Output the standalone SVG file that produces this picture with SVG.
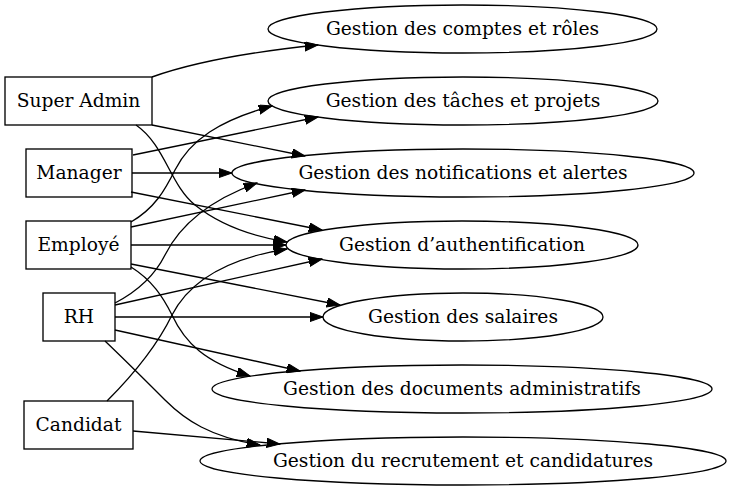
<svg xmlns="http://www.w3.org/2000/svg" width="732" height="491" viewBox="0 0 732 491">
<style>
.n rect, .n ellipse { fill: none; stroke: #000; stroke-width: 1.33; }
text { font-family: "DejaVu Serif", "Liberation Serif", serif; font-size: 18.67px; fill: #000; text-anchor: middle; }
#edges path { fill: none; stroke: #000; stroke-width: 1.33; marker-end: url(#arr); }
</style>
<defs>
<marker id="arr" markerUnits="userSpaceOnUse" markerWidth="14" markerHeight="10" refX="13.3" refY="4.67" orient="auto">
<path d="M0,0 L13.3,4.67 L0,9.33 z" fill="#000" stroke="#000" stroke-width="1"/>
</marker>
</defs>
<rect width="732" height="491" fill="#fff"/>
<g id="edges">
<path d="M152,77 C180,67 230,54 318,45"/>
<path d="M152,125 L305,156"/>
<path d="M136,125 C165,145 170,185 195,205 C220,225 250,236 287,242"/>
<path d="M133,155 L318,117"/>
<path d="M132,173 L232,173"/>
<path d="M131,192 L322,230"/>
<path d="M131,222 C155,208 165,190 175,170 C190,140 220,120 272,106"/>
<path d="M131,227 L305,190"/>
<path d="M131,245 L286,245"/>
<path d="M131,264 L340,305"/>
<path d="M131,267 C152,280 163,297 172,315 C185,343 205,362 250,376"/>
<path d="M115,303 C140,290 155,275 165,255 C180,225 210,200 257,183"/>
<path d="M115,305 L322,259"/>
<path d="M115,317 L323,317"/>
<path d="M115,330 L300,371"/>
<path d="M105,341 C125,360 145,380 165,400 C185,420 210,437 260,445"/>
<path d="M107,401 C130,378 155,350 172,315 C190,280 230,258 287,249"/>
<path d="M133,431 L280,444"/>
</g>
<g id="superadmin" class="n"><rect x="5" y="77" width="147" height="48"/><text x="78.5" y="106.5">Super Admin</text></g>
<g id="manager" class="n"><rect x="26" y="149" width="106" height="48"/><text x="79" y="178.5">Manager</text></g>
<g id="employe" class="n"><rect x="26" y="221" width="105" height="48"/><text x="78.5" y="250.5">Employé</text></g>
<g id="rh" class="n"><rect x="43" y="293" width="72" height="48"/><text x="79" y="322.5">RH</text></g>
<g id="candidat" class="n"><rect x="24" y="401" width="109" height="48"/><text x="78.5" y="430.5">Candidat</text></g>
<g id="comptes" class="n"><ellipse cx="462.5" cy="29" rx="194.5" ry="24"/><text x="462.5" y="34.5">Gestion des comptes et rôles</text></g>
<g id="taches" class="n"><ellipse cx="463" cy="101" rx="195" ry="24"/><text x="463" y="106.5">Gestion des tâches et projets</text></g>
<g id="notifications" class="n"><ellipse cx="463" cy="173" rx="231" ry="24"/><text x="463" y="178.5">Gestion des notifications et alertes</text></g>
<g id="auth" class="n"><ellipse cx="462" cy="245" rx="176" ry="24"/><text x="462" y="250.5">Gestion d’authentification</text></g>
<g id="salaires" class="n"><ellipse cx="463" cy="317" rx="140" ry="24"/><text x="463" y="322.5">Gestion des salaires</text></g>
<g id="documents" class="n"><ellipse cx="462" cy="389" rx="250" ry="24"/><text x="462" y="394.5">Gestion des documents administratifs</text></g>
<g id="recrutement" class="n"><ellipse cx="463" cy="461" rx="263" ry="24"/><text x="463" y="466.5">Gestion du recrutement et candidatures</text></g>
</svg>
